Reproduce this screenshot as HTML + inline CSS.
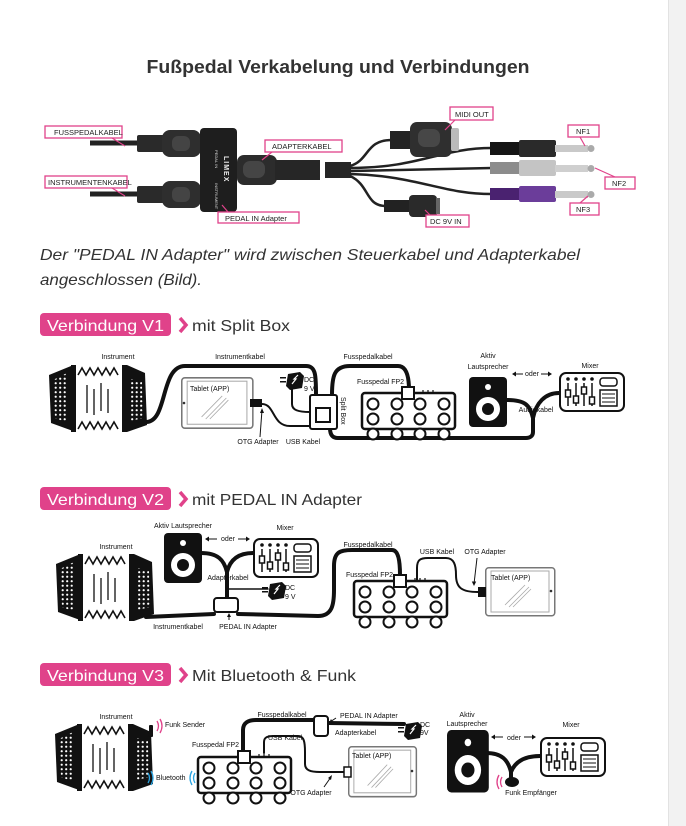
<!DOCTYPE html>
<html><head><meta charset="utf-8"><style>
html,body{margin:0;padding:0;background:#fff}
svg{display:block}
text{font-family:"Liberation Sans",sans-serif}
</style></head><body>
<svg width="686" height="826" viewBox="0 0 686 826" xmlns="http://www.w3.org/2000/svg">
<defs>
<pattern id="dots" width="4.5" height="4.5" patternUnits="userSpaceOnUse"><circle cx="2.2" cy="2.2" r="1.1" fill="#fff"/></pattern>
<g id="acc">
 <polygon points="0,12 22,3 24,68 2,60" fill="#111"/>
 <polygon points="4,17 18,10 19,60 6,55" fill="url(#dots)"/>
 <rect x="22" y="3" width="56" height="65" fill="#fff"/>
 <rect x="22" y="2" width="5" height="67" fill="#111"/>
 <rect x="73" y="2" width="5" height="67" fill="#111"/>
 <polyline points="29,12 33,5 37,12 41,5 45,12 49,5 53,12 57,5 61,12 65,5 69,12" fill="none" stroke="#111" stroke-width="1.6"/>
 <polyline points="29,66 33,59 37,66 41,59 45,66 49,59 53,66 57,59 61,66 65,59 69,66" fill="none" stroke="#111" stroke-width="1.6"/>
 <g stroke="#111" stroke-width="1.3"><line x1="38" y1="22" x2="38" y2="50"/><line x1="45" y1="26" x2="45" y2="52"/><line x1="52" y1="20" x2="52" y2="48"/><line x1="59" y1="26" x2="59" y2="50"/></g>
 <polygon points="78,2 96,10 98,62 78,69" fill="#111"/>
 <polygon points="82,16 93,19 94,55 82,58" fill="url(#dots)"/>
</g>
<g id="pedal">
 <rect x="1" y="6" width="93" height="36" rx="3" fill="#fff" stroke="#111" stroke-width="2.5"/>
 <g fill="#fff" stroke="#111" stroke-width="2">
  <circle cx="12" cy="17" r="5.5"/><circle cx="36" cy="17" r="5.5"/><circle cx="59" cy="17" r="5.5"/><circle cx="83" cy="17" r="5.5"/>
  <circle cx="12" cy="32" r="5.5"/><circle cx="36" cy="32" r="5.5"/><circle cx="59" cy="32" r="5.5"/><circle cx="83" cy="32" r="5.5"/>
  <circle cx="12" cy="47" r="5.5"/><circle cx="36" cy="47" r="5.5"/><circle cx="59" cy="47" r="5.5"/><circle cx="83" cy="47" r="5.5"/>
  <rect x="41" y="0" width="12" height="12"/>
 </g>
 <g stroke="#111" stroke-width="1.2"><line x1="62" y1="3" x2="62" y2="7"/><line x1="67" y1="3" x2="67" y2="7"/><line x1="72" y1="3" x2="72" y2="7"/></g>
</g>
<g id="spk">
 <rect x="0" y="0" width="38" height="50" rx="4" fill="#111"/>
 <circle cx="19" cy="10" r="3" fill="#fff"/>
 <circle cx="19" cy="32" r="12" fill="#fff"/>
 <circle cx="19" cy="32" r="6" fill="#111"/>
</g>
<g id="mix">
 <rect x="1" y="1" width="64" height="38" rx="6" fill="#fff" stroke="#111" stroke-width="2"/>
 <g stroke="#111" stroke-width="1.5"><line x1="9" y1="11" x2="9" y2="34"/><line x1="17" y1="11" x2="17" y2="34"/><line x1="25" y1="11" x2="25" y2="34"/><line x1="33" y1="11" x2="33" y2="34"/></g>
 <g fill="#111"><circle cx="9" cy="7" r="1.8"/><circle cx="17" cy="7" r="1.8"/><circle cx="25" cy="7" r="1.8"/><circle cx="33" cy="7" r="1.8"/></g>
 <g fill="#fff" stroke="#111" stroke-width="1.5"><rect x="6.5" y="18" width="5" height="7"/><rect x="14.5" y="24" width="5" height="7"/><rect x="22.5" y="15" width="5" height="7"/><rect x="30.5" y="25" width="5" height="7"/>
 <rect x="41" y="6" width="17" height="8" rx="3"/><rect x="41" y="18" width="17" height="16"/></g>
 <g stroke="#111" stroke-width="1"><line x1="43" y1="22" x2="56" y2="22"/><line x1="43" y1="26" x2="56" y2="26"/><line x1="43" y1="30" x2="56" y2="30"/></g>
</g>
<g id="tab">
 <rect x="0.75" y="0.75" width="69" height="48" rx="3" fill="#fff" stroke="#777" stroke-width="1.5"/>
 <rect x="6" y="4" width="58" height="41" fill="#fff" stroke="#aaa" stroke-width="1"/>
 <g stroke="#aaa" stroke-width="0.8"><line x1="20" y1="38" x2="40" y2="18"/><line x1="24" y1="40" x2="44" y2="20"/><line x1="28" y1="40" x2="46" y2="22"/></g>
</g>
<g id="dc">
 <polygon points="2,2 14,0 18,4 16,16 4,18 0,14" fill="#111"/>
 <polyline points="6,12 10,7 8,7 12,3" fill="none" stroke="#fff" stroke-width="1.2"/>
 <rect x="-6" y="5" width="6" height="1.5" fill="#111"/><rect x="-6" y="9" width="6" height="1.5" fill="#111"/>
</g>
</defs>

<rect x="668" y="0" width="18" height="826" fill="#f2f2f2"/>
<line x1="668.5" y1="0" x2="668.5" y2="826" stroke="#e2e2e2"/>

<text x="338" y="73" text-anchor="middle" font-size="18" font-weight="bold" fill="#333" textLength="383" lengthAdjust="spacingAndGlyphs">Fußpedal Verkabelung und Verbindungen</text>

<!-- TOP IMAGE -->
<g>
 <line x1="90" y1="143" x2="140" y2="143" stroke="#222" stroke-width="5"/>
 <line x1="90" y1="194" x2="140" y2="194" stroke="#222" stroke-width="5"/>
 <rect x="137" y="135" width="28" height="17" rx="2" fill="#2a2a2a"/>
 <rect x="162" y="130" width="39" height="27" rx="8" fill="#2e2e2e"/>
 <rect x="172" y="136" width="18" height="15" rx="6" fill="#444"/>
 <rect x="137" y="186" width="28" height="17" rx="2" fill="#2a2a2a"/>
 <rect x="162" y="181" width="39" height="27" rx="8" fill="#2e2e2e"/>
 <rect x="172" y="187" width="18" height="15" rx="6" fill="#444"/>
 <rect x="200" y="128" width="37" height="84" rx="4" fill="#1e1e1e"/>
 <text x="0" y="0" transform="translate(215,150) rotate(90)" font-size="4" fill="#ddd">PEDAL IN</text>
 <text x="0" y="0" transform="translate(224,156) rotate(90)" font-size="7" font-weight="bold" fill="#eee" letter-spacing="1">LIMEX</text>
 <text x="0" y="0" transform="translate(215,183) rotate(90)" font-size="4" fill="#ddd">INSTRUMENT</text>
 <rect x="237" y="155" width="40" height="30" rx="7" fill="#2c2c2c"/>
 <rect x="243" y="161" width="22" height="17" rx="7" fill="#454545"/>
 <rect x="275" y="160" width="45" height="20" fill="#262626"/>
 <rect x="325" y="162" width="26" height="16" fill="#262626"/>
 <g fill="none" stroke="#222" stroke-width="2.5">
  <path d="M350,166 C370,160 365,140 392,140"/>
  <path d="M350,168 C420,168 440,148 492,148"/>
  <path d="M350,171 L492,168"/>
  <path d="M350,174 C420,176 440,194 492,194"/>
  <path d="M350,176 C370,185 365,206 386,206"/>
 </g>
 <rect x="390" y="131" width="22" height="18" fill="#222"/>
 <rect x="410" y="122" width="42" height="35" rx="7" fill="#2f2f2f"/>
 <rect x="418" y="129" width="22" height="18" rx="7" fill="#474747"/>
 <rect x="451" y="128" width="8" height="23" rx="2" fill="#bbb"/>
 <rect x="490" y="142" width="30" height="13" fill="#151515"/>
 <rect x="519" y="140" width="37" height="17" rx="2" fill="#2a2a2a"/>
 <rect x="555" y="145" width="33" height="7" fill="#c9c9c9"/><circle cx="591" cy="148.5" r="3.5" fill="#aaa"/>
 <rect x="490" y="162" width="30" height="12" fill="#8c8c8c"/>
 <rect x="519" y="160" width="37" height="16" rx="2" fill="#c4c4c4"/>
 <rect x="555" y="165" width="33" height="7" fill="#cfcfcf"/><circle cx="591" cy="168.5" r="3.5" fill="#aaa"/>
 <rect x="490" y="188" width="30" height="12" fill="#4a2270"/>
 <rect x="519" y="186" width="37" height="16" rx="2" fill="#6b3d9a"/>
 <rect x="555" y="191" width="33" height="7" fill="#c9c9c9"/><circle cx="591" cy="194.5" r="3.5" fill="#aaa"/>
 <rect x="384" y="200" width="26" height="12" fill="#222"/>
 <rect x="409" y="195" width="28" height="22" rx="4" fill="#2a2a2a"/>
 <rect x="436" y="198" width="4" height="16" fill="#666"/>
 <g fill="#fff" stroke="#e0428a" stroke-width="1.3" font-size="7.5">
  <rect x="45" y="126" width="77" height="12"/><rect x="45" y="176" width="82" height="12"/>
  <rect x="265" y="140" width="77" height="12"/><rect x="218" y="212" width="81" height="11"/>
  <rect x="450" y="107" width="43" height="13"/><rect x="568" y="125" width="31" height="12"/>
  <rect x="605" y="177" width="30" height="12"/><rect x="570" y="203" width="29" height="12"/>
  <rect x="426" y="215" width="43" height="12"/>
 </g>
 <g stroke="#e0428a" stroke-width="1.2">
  <line x1="112" y1="138" x2="125" y2="146"/><line x1="112" y1="188" x2="125" y2="196"/>
  <line x1="272" y1="152" x2="262" y2="160"/><line x1="228" y1="212" x2="222" y2="205"/>
  <line x1="455" y1="120" x2="445" y2="130"/><line x1="580" y1="137" x2="585" y2="146"/>
  <line x1="615" y1="177" x2="595" y2="168"/><line x1="580" y1="203" x2="588" y2="196"/>
  <line x1="430" y1="215" x2="425" y2="210"/>
 </g>
 <g font-size="7.5" fill="#222">
  <text x="54" y="135">FUSSPEDALKABEL</text><text x="48" y="185">INSTRUMENTENKABEL</text>
  <text x="272" y="149">ADAPTERKABEL</text><text x="225" y="221">PEDAL IN Adapter</text>
  <text x="455" y="117">MIDI OUT</text><text x="576" y="134">NF1</text>
  <text x="612" y="186">NF2</text><text x="576" y="212">NF3</text><text x="430" y="224">DC 9V IN</text>
 </g>
</g>

<g font-size="16" font-style="italic" fill="#333">
 <text x="40" y="260" textLength="540" lengthAdjust="spacingAndGlyphs">Der "PEDAL IN Adapter" wird zwischen Steuerkabel und Adapterkabel</text>
 <text x="40" y="285" textLength="162" lengthAdjust="spacingAndGlyphs">angeschlossen (Bild).</text>
</g>

<!-- Badges -->
<g font-size="16">
 <rect x="40" y="313" width="131" height="23" rx="4" fill="#e0428a"/>
 <text x="47" y="331" fill="#fff" textLength="117" lengthAdjust="spacingAndGlyphs">Verbindung V1</text>
 <polyline points="180,318 186,325 180,332" fill="none" stroke="#e0428a" stroke-width="3.5"/>
 <text x="192" y="331" fill="#333" textLength="98" lengthAdjust="spacingAndGlyphs">mit Split Box</text>
 <rect x="40" y="487" width="131" height="23" rx="4" fill="#e0428a"/>
 <text x="47" y="505" fill="#fff" textLength="117" lengthAdjust="spacingAndGlyphs">Verbindung V2</text>
 <polyline points="180,492 186,499 180,506" fill="none" stroke="#e0428a" stroke-width="3.5"/>
 <text x="192" y="505" fill="#333" textLength="170" lengthAdjust="spacingAndGlyphs">mit PEDAL IN Adapter</text>
 <rect x="40" y="663" width="131" height="23" rx="4" fill="#e0428a"/>
 <text x="47" y="681" fill="#fff" textLength="117" lengthAdjust="spacingAndGlyphs">Verbindung V3</text>
 <polyline points="180,668 186,675 180,682" fill="none" stroke="#e0428a" stroke-width="3.5"/>
 <text x="192" y="681" fill="#333" textLength="164" lengthAdjust="spacingAndGlyphs">Mit Bluetooth &amp; Funk</text>
</g>

<!-- V1 -->
<g>
 <g fill="none" stroke="#111" stroke-width="4" stroke-linecap="round">
  <path d="M146,422 C168,422 160,366 185,366 L306,366 C316,366 316,376 316,395"/>
  <path d="M332,395 C332,376 334,366 350,366 L398,366 C406,366 409,376 409,390"/>
  <path d="M507,400 C525,400 530,405 533,418 L533,432 C533,436 530,438 526,438 L338,438 C332,438 330,434 330,428"/>
  <path d="M559,393 C545,393 536,403 533,418"/>
  <path d="M292,388 L292,404 C292,410 298,412 310,412" stroke-width="2"/>
  <path d="M262,404 C275,404 272,426 290,426 L316,426" stroke-width="2"/>
 </g>
 <use href="#acc" transform="translate(49,363)"/>
 <use href="#tab" transform="translate(181,377) scale(1.03,1.05)"/>
 <circle cx="184" cy="403" r="1.3" fill="#333"/>
 <rect x="250" y="399" width="12" height="8" fill="#111"/>
 <use href="#dc" transform="translate(286,372)"/>
 <rect x="310" y="395" width="27" height="34" rx="2" fill="#fff" stroke="#111" stroke-width="2"/>
 <rect x="316" y="408" width="14" height="14" fill="#fff" stroke="#111" stroke-width="2"/>
 <use href="#pedal" transform="translate(361,387)"/>
 <use href="#spk" transform="translate(469,377)"/>
 <use href="#mix" transform="translate(559,372)"/>
 <g stroke="#111" stroke-width="1"><line x1="260" y1="437" x2="262" y2="410"/></g>
 <path d="M262,408 l-2,5 h4z" fill="#111"/>
 <g font-size="7" fill="#111">
  <text x="118" y="359" text-anchor="middle">Instrument</text>
  <text x="240" y="359" text-anchor="middle">Instrumentkabel</text>
  <text x="368" y="359" text-anchor="middle">Fusspedalkabel</text>
  <text x="190" y="391">Tablet (APP)</text>
  <text x="304" y="382">DC</text><text x="304" y="391">9 V</text>
  <text x="0" y="0" transform="translate(341,397) rotate(90)">Split Box</text>
  <text x="357" y="384">Fusspedal FP2</text>
  <text x="488" y="358" text-anchor="middle">Aktiv</text>
  <text x="488" y="369" text-anchor="middle">Lautsprecher</text>
  <text x="590" y="368" text-anchor="middle">Mixer</text>
  <text x="532" y="376" text-anchor="middle">oder</text>
  <text x="536" y="412" text-anchor="middle">Audiokabel</text>
  <text x="258" y="444" text-anchor="middle">OTG Adapter</text>
  <text x="303" y="444" text-anchor="middle">USB Kabel</text>
 </g>
 <g stroke="#111" stroke-width="1"><line x1="514" y1="374" x2="523" y2="374"/><line x1="541" y1="374" x2="550" y2="374"/></g>
 <path d="M512,374 l4,-2.5 v5z M552,374 l-4,-2.5 v5z" fill="#111"/>
</g>

<!-- V2 -->
<g>
 <g fill="none" stroke="#111" stroke-width="4" stroke-linecap="round">
  <path d="M146,617 L214,614"/>
  <path d="M238,614 L318,616 C332,616 334,605 334,590 L334,566 C334,552 340,550 352,550 L392,550 C398,550 400,560 400,575"/>
  <path d="M201,553 C218,553 224,560 227,572 L227,598"/>
  <path d="M253,553 C238,553 230,560 227,572"/>
  <path d="M417,583 L417,568 C417,560 420,558 428,558 L446,558 C454,558 456,565 456,575 C456,588 462,592 478,592" stroke-width="2"/>
  <path d="M268,589 L227,589" stroke-width="1.5"/>
 </g>
 <use href="#acc" transform="translate(56,552)"/>
 <use href="#spk" transform="translate(164,533)"/>
 <use href="#mix" transform="translate(253,538)"/>
 <use href="#dc" transform="translate(268,582)"/>
 <rect x="214" y="598" width="24" height="14" rx="3" fill="#fff" stroke="#111" stroke-width="2"/>
 <use href="#pedal" transform="translate(353,575)"/>
 <use href="#tab" transform="translate(485,567)"/>
 <circle cx="551" cy="591" r="1.3" fill="#333"/>
 <rect x="478" y="587" width="8" height="10" fill="#111"/>
 <g stroke="#111" stroke-width="1"><line x1="207" y1="539" x2="217" y2="539"/><line x1="238" y1="539" x2="248" y2="539"/><line x1="229" y1="620" x2="229" y2="614"/><line x1="477" y1="558" x2="474" y2="584"/></g>
 <path d="M205,539 l4,-2.5 v5z M250,539 l-4,-2.5 v5z M229,613 l-2,4 h4z M474,586 l-2.2,-4.5 h4.4z" fill="#111"/>
 <g font-size="7" fill="#111">
  <text x="116" y="549" text-anchor="middle">Instrument</text>
  <text x="183" y="528" text-anchor="middle">Aktiv Lautsprecher</text>
  <text x="228" y="541" text-anchor="middle">oder</text>
  <text x="285" y="530" text-anchor="middle">Mixer</text>
  <text x="228" y="580" text-anchor="middle">Adapterkabel</text>
  <text x="285" y="590">DC</text><text x="285" y="599">9 V</text>
  <text x="178" y="629" text-anchor="middle">Instrumentkabel</text>
  <text x="248" y="629" text-anchor="middle">PEDAL IN Adapter</text>
  <text x="368" y="547" text-anchor="middle">Fusspedalkabel</text>
  <text x="346" y="577">Fusspedal FP2</text>
  <text x="437" y="554" text-anchor="middle">USB Kabel</text>
  <text x="485" y="554" text-anchor="middle">OTG Adapter</text>
  <text x="491" y="580">Tablet (APP)</text>
 </g>
</g>

<!-- V3 -->
<g>
 <g fill="none" stroke="#111" stroke-width="4" stroke-linecap="round">
  <path d="M243,753 L243,730 C243,723 248,720 256,720 L314,720"/>
  <path d="M328,723 L404,724"/>
  <path d="M264,753 L264,742 C264,737 268,736 274,736 L298,736 C304,736 305,742 305,752 L305,764 C305,770 310,772 320,772 L346,772" stroke-width="2"/>
  <path d="M486,753 C502,753 508,760 511,772 L511,780"/>
  <path d="M540,756 C524,756 515,762 511,772"/>
 </g>
 <use href="#acc" transform="translate(55,722)"/>
 <rect x="149" y="725" width="4" height="12" rx="1" fill="#111"/>
 <use href="#pedal" transform="translate(197,751)"/>
 <rect x="314" y="716" width="14" height="20" rx="3" fill="#fff" stroke="#111" stroke-width="2"/>
 <use href="#dc" transform="translate(404,722)"/>
 <use href="#tab" transform="translate(348,746) scale(0.98,1.04)"/>
 <circle cx="412" cy="771" r="1.3" fill="#333"/>
 <rect x="344" y="767" width="7" height="10" fill="#fff" stroke="#111" stroke-width="1.5"/>
 <use href="#spk" transform="translate(447,730) scale(1.1,1.25)"/>
 <use href="#mix" transform="translate(540,737)"/>
 <ellipse cx="512" cy="782" rx="7" ry="5" fill="#111"/>
 <g fill="none" stroke="#e0428a" stroke-width="1.3"><path d="M157,721 q3,5 0,10"/><path d="M160,719 q4,7 0,14"/><path d="M502,777 q-3,5 0,10"/><path d="M499,775 q-4,7 0,14"/></g>
 <g fill="none" stroke="#2aa3e0" stroke-width="1.3"><path d="M148,773 q3,5 0,10"/><path d="M151,771 q4,7 0,14"/><path d="M195,773 q-3,5 0,10"/><path d="M192,771 q-4,7 0,14"/></g>
 <g stroke="#111" stroke-width="1"><line x1="493" y1="737" x2="503" y2="737"/><line x1="524" y1="737" x2="534" y2="737"/><line x1="336" y1="718" x2="330" y2="722"/><line x1="324" y1="787" x2="331" y2="777"/></g>
 <path d="M491,737 l4,-2.5 v5z M536,737 l-4,-2.5 v5z M329,723 l2,-4 l2,3z M332,775 l-1,5 l-3,-2z" fill="#111"/>
 <g font-size="7" fill="#111">
  <text x="116" y="719" text-anchor="middle">Instrument</text>
  <text x="165" y="727">Funk Sender</text>
  <text x="156" y="780">Bluetooth</text>
  <text x="192" y="747">Fusspedal FP2</text>
  <text x="282" y="717" text-anchor="middle">Fusspedalkabel</text>
  <text x="340" y="718">PEDAL IN Adapter</text>
  <text x="335" y="735">Adapterkabel</text>
  <text x="420" y="727">DC</text><text x="420" y="735">9V</text>
  <text x="268" y="740">USB Kabel</text>
  <text x="352" y="758">Tablet (APP)</text>
  <text x="311" y="795" text-anchor="middle">OTG Adapter</text>
  <text x="467" y="717" text-anchor="middle">Aktiv</text>
  <text x="467" y="726" text-anchor="middle">Lautsprecher</text>
  <text x="514" y="740" text-anchor="middle">oder</text>
  <text x="571" y="727" text-anchor="middle">Mixer</text>
  <text x="531" y="795" text-anchor="middle">Funk Empfänger</text>
 </g>
</g>
</svg>
</body></html>
